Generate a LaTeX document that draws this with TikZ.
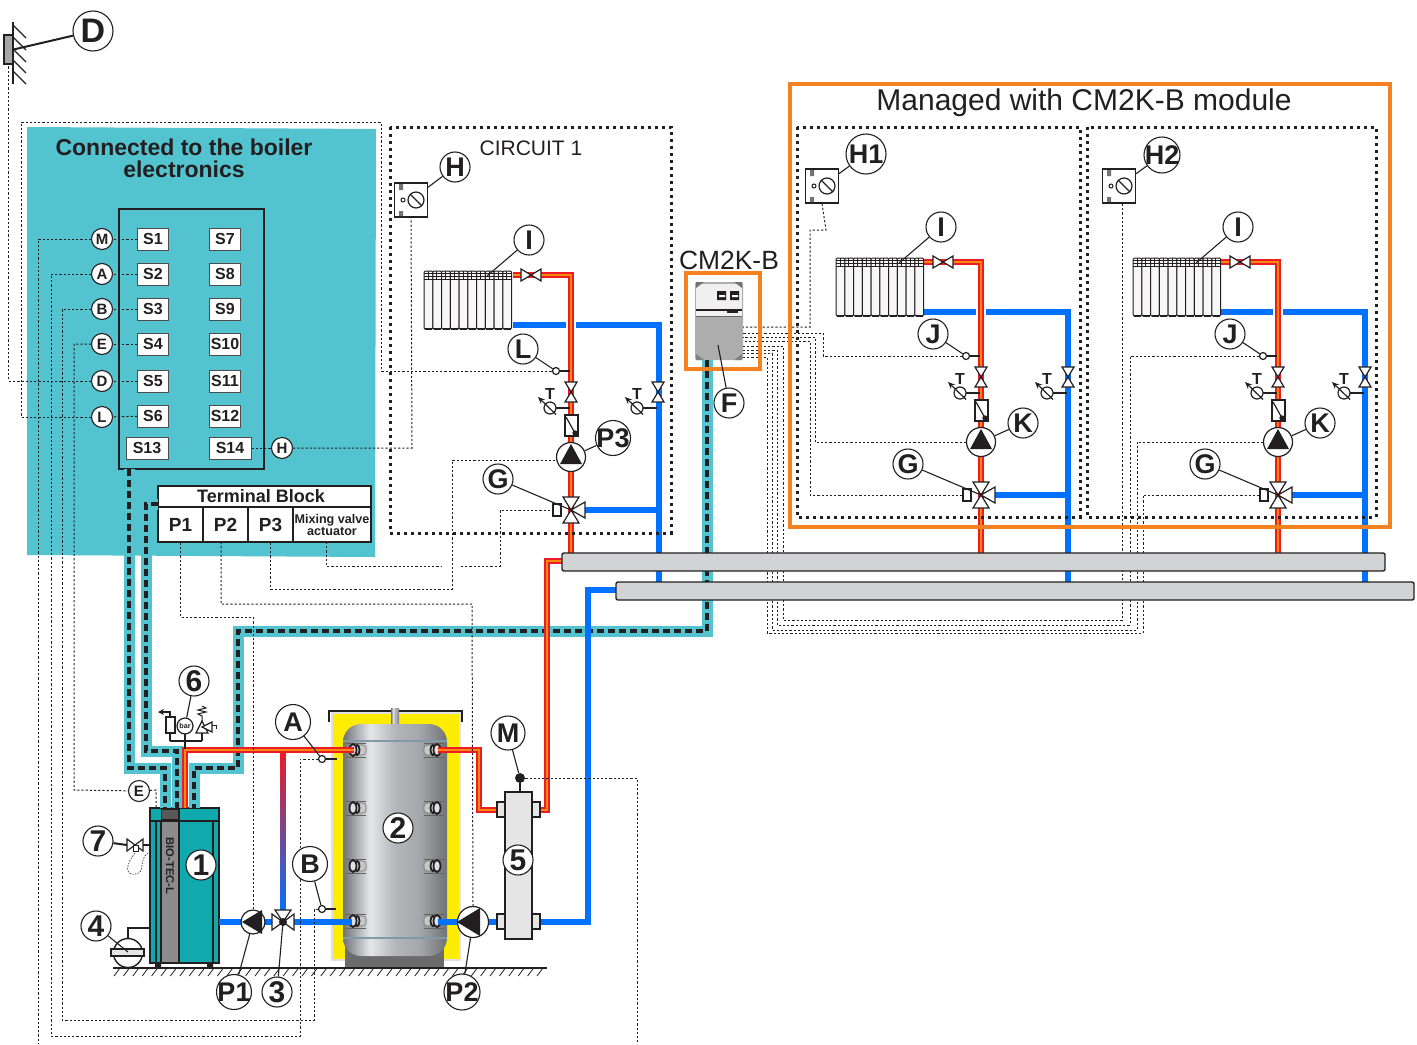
\documentclass[tikz,border=0pt]{standalone}
\usepackage{fontspec}
\setmainfont{Liberation Sans}
\usetikzlibrary{arrows.meta, calc}

\definecolor{ink}{HTML}{231F20}
\definecolor{tealbox}{HTML}{53C3CF}
\definecolor{boilerteal}{HTML}{10A9AE}
\definecolor{hotred}{HTML}{ED1C24}
\definecolor{hotorange}{HTML}{F58A0C}
\definecolor{coldblue}{HTML}{0072FF}
\definecolor{frameorange}{HTML}{F58220}
\definecolor{bargray}{HTML}{D1D3D4}
\definecolor{tankdark}{HTML}{707276}
\definecolor{tanklight}{HTML}{E4E6E8}
\definecolor{tankmid}{HTML}{B4B6BA}
\definecolor{tankright}{HTML}{A4A6AA}
\pgfdeclarehorizontalshading{tankmetal}{100bp}{color(0bp)=(tankdark); color(25bp)=(tankdark); color(38bp)=(tanklight); color(50bp)=(tankmid); color(62bp)=(tankright); color(75bp)=(tankdark); color(100bp)=(tankdark)}

\tikzset{
  bigtag/.style={circle, draw=ink, fill=white, line width=.55pt, inner sep=-8pt, minimum size=15pt, text=ink, font=\bfseries\fontsize{13.5}{14}\selectfont},
  pintag/.style={circle, draw=ink, fill=white, line width=.55pt, inner sep=-3pt, minimum size=10.5pt, text=ink, font=\bfseries\fontsize{7.5}{8}\selectfont},
  slotbox/.style={rectangle, draw=ink!80, fill=white, line width=.5pt, inner sep=0pt, minimum width=15.5pt, minimum height=11pt, text=ink, font=\bfseries\fontsize{8}{8}\selectfont},
  tbcell/.style={rectangle, draw=ink, fill=white, line width=.7pt, inner sep=0pt, minimum height=17.5pt, text=ink, font=\bfseries\fontsize{9.5}{10}\selectfont},
  wire/.style={ink, line width=.5pt, dash pattern=on 1.1pt off 1pt},
  leader/.style={ink, line width=.55pt},
  cable/.style={ink, line width=2pt, dash pattern=on 3.5pt off 2pt, preaction={draw=tealbox, line width=5.5pt, solid}},
  hotpipe/.style={hotorange, line width=1.1pt, preaction={draw=hotred, line width=3.2pt}},
  coldpipe/.style={coldblue, line width=2.75pt},
  dotframe/.style={ink, line width=1.5pt, dash pattern=on 1.5pt off 2pt},
  valvebody/.style={draw=ink, fill=white, line width=.6pt},
  pumpnode/.style={circle, draw=ink, fill=white, line width=.6pt, inner sep=0pt, minimum size=14.5pt},
  sensnode/.style={circle, draw=ink, fill=white, line width=.6pt, inner sep=0pt, minimum size=3.5pt},
  radfin/.style={draw=ink, fill=black!3, line width=.5pt},
  barbus/.style={draw=ink, fill=bargray, line width=.7pt, rounded corners=1pt},
  ttext/.style={inner sep=0pt, text=ink, font=\bfseries\fontsize{8}{8}\selectfont},
  thintext/.style={inner sep=0pt, text=ink},
}

% valve bodies, x and y of the centre
\newcommand{\hvalve}[2]{\draw[valvebody] (#1-10,#2-6) -- (#1+10,#2+6) -- (#1+10,#2-6) -- (#1-10,#2+6) -- cycle;}
\newcommand{\vvalve}[2]{\draw[valvebody] (#1-6,#2-10) -- (#1+6,#2+10) -- (#1-6,#2+10) -- (#1+6,#2-10) -- cycle;}

% thermometer, name, x of the pipe and y
\newcommand{\thermo}[3]{
  \draw[ink, line width=1pt] (#2-15,#3) -- (#2-1,#3);
  \draw[ink, fill=white, line width=.6pt] (#2-21,#3) circle[radius=6];
  \draw[ink, line width=.6pt, -{Stealth[length=3.5pt,width=3pt]}] (#2-15,#3+6.5) -- (#2-33,#3-11);
  \node[ttext] (#1) at (#2-21,#3-14) {T};
}

% radiator with its valve and tag, drawn for the second circuit
\newcommand{\radblock}[1]{
  \foreach \fin in {0,...,9} {
    \draw[radfin, rounded corners=.6pt] (836+8.75*\fin,258) rectangle ++(8.75,58);
    \draw[ink, line width=.9pt] (837+8.75*\fin,316) -- (844+8.75*\fin,316);
    \draw[ink, line width=.3pt] (840+8.75*\fin,258) -- (840+8.75*\fin,266);
  }
  \draw[ink, line width=.3pt] (836,260) -- (923.5,260) (836,263) -- (923.5,263) (836,266) -- (923.5,266);
  \hvalve{943}{262}
  \node[bigtag] (#1rad) at (941,227) {I};
  \coordinate (#1fin) at (899,263);
  \draw[leader] (#1rad) -- (#1fin);
}

% sensor, valves, pump and mixing valve, drawn for the second circuit
\newcommand{\pumpblock}[4]{
  \node[sensnode] (#1sens) at (966,356) {};
  \draw[ink, line width=1pt] (#1sens) -- (980,356);
  \vvalve{981}{377}
  \vvalve{1068}{377}
  \thermo{#1thot}{981}{393}
  \thermo{#1tcold}{1068}{393}
  \draw[valvebody] (975,400) rectangle (988,421);
  \draw[ink, line width=.6pt] (976,402) -- (985,418);
  \fill[ink] (985,418) circle[radius=2.7];
  \node[pumpnode] (#1pump) at (981,442) {};
  \fill[ink] (981,429) -- (970,449) -- (992,449) -- cycle;
  \draw[valvebody] (973,482) -- (989,482) -- (973,508) -- (989,508) -- cycle;
  \draw[valvebody] (981,495) -- (995,487) -- (995,503) -- cycle;
  \fill[ink] (981,495) circle[radius=1.5];
  \node[rectangle, draw=ink, fill=white, line width=.6pt, inner sep=0pt, minimum width=4pt, minimum height=6pt] (#1act) at (967,495) {};
  \node[bigtag] (#1tags) at (933,334) {#2};
  \node[bigtag, #4] (#1tagp) at (1023,423) {#3};
  \node[bigtag] (#1tagg) at (908,464) {G};
  \coordinate (#1mix) at (981,495);
  \draw[leader] (#1tags) -- (#1sens);
  \draw[leader] (#1tagp) -- (#1pump);
  \draw[leader] (#1tagg) -- (#1mix);
}

% room panel, drawn for the second circuit
\newcommand{\roombox}[1]{
  \node[rectangle, draw=ink, fill=white, line width=.6pt, inner sep=0pt, minimum width=16.5pt, minimum height=17pt] (#1room) at (822,186) {};
  \fill[black!55] (810,170) rectangle (814,176) (810,197) rectangle (814,202);
  \draw[ink, line width=.5pt] (814,186) circle[radius=2];
  \draw[ink, fill=white, line width=.6pt] (827,186) circle[radius=8];
  \draw[ink, line width=.6pt] (821,180) -- (833,192);
}

% connection on the tank
\newcommand{\tankport}[3]{
  \draw[ink!70, line width=.35pt] (#1-#3*7,#2-7) -- (#1+#3*13,#2-7) (#1-#3*7,#2+7) -- (#1+#3*13,#2+7);
  \draw[black!55, fill=black!22, line width=.3pt, rounded corners=1.5pt] (#1,#2-5) rectangle (#1+#3*13,#2+5);
  \draw[ink, fill=black!12, line width=.9pt] (#1+#3*4,#2) ellipse[x radius=2.5, y radius=5];
  \draw[ink, fill=black!12, line width=.9pt] (#1,#2) ellipse[x radius=3.5, y radius=6];
}

\begin{document}
\begin{tikzpicture}[x=0.5pt,y=-0.5pt]
  \useasboundingbox (0,0) rectangle (1417,1044);

  % Boiler electronics
  \fill[tealbox] (27,127) -- (376,129) -- (375,557) -- (27,555) -- cycle;
  \node[thintext, align=center, font=\bfseries\fontsize{11.5}{11}\selectfont] (boilertitle) at (184,158) {Connected to the boiler\\electronics};
  \node[rectangle, draw=ink, line width=.55pt, inner sep=0pt, minimum width=72.5pt, minimum height=130pt] (slotframe) at (191.5,339) {};

  \node[slotbox] (s1) at (153,239) {S1};
  \node[slotbox] (s2) at (153,274) {S2};
  \node[slotbox] (s3) at (153,309) {S3};
  \node[slotbox] (s4) at (153,344) {S4};
  \node[slotbox] (s5) at (153,381) {S5};
  \node[slotbox] (s6) at (153,416) {S6};
  \node[slotbox] (s7) at (225,239) {S7};
  \node[slotbox] (s8) at (225,274) {S8};
  \node[slotbox] (s9) at (225,309) {S9};
  \node[slotbox] (s10) at (225,344) {S10};
  \node[slotbox] (s11) at (225,381) {S11};
  \node[slotbox] (s12) at (225,416) {S12};
  \node[slotbox, minimum width=21pt] (s13) at (147,448) {S13};
  \node[slotbox, minimum width=21pt] (s14) at (230,448) {S14};

  \node[pintag] (pinM) at (102,239) {M};
  \node[pintag] (pinA) at (102,274) {A};
  \node[pintag] (pinB) at (102,309) {B};
  \node[pintag] (pinE) at (102,344) {E};
  \node[pintag] (pinD) at (102,381) {D};
  \node[pintag] (pinL) at (102,417) {L};
  \node[pintag] (pinH) at (282,448) {H};

  % Terminal block
  \node[tbcell, minimum width=106.5pt, minimum height=10.5pt, font=\bfseries\fontsize{9}{10}\selectfont] (tbhead) at (264.5,496.5) {Terminal Block\hspace*{3.5pt}};
  \node[tbcell, minimum width=22.5pt] (tbP1) at (180.5,524.5) {P1};
  \node[tbcell, minimum width=22.5pt] (tbP2) at (225.5,524.5) {P2};
  \node[tbcell, minimum width=22.5pt] (tbP3) at (270.5,524.5) {P3};
  \node[tbcell, minimum width=39pt, align=center, font=\bfseries\fontsize{6.3}{6}\selectfont] (tbmix) at (332,524.5) {Mixing valve\\actuator};
  \coordinate (tbP2pin) at (221,542);
  \coordinate (tbmixpin) at (326,542);

  % CM2K-B module
  \node[thintext, font=\fontsize{13.2}{14}\selectfont] (cmtitle) at (729,260) {CM2K-B};
  \node[rectangle, rounded corners=1pt, fill=black!32, inner sep=0pt, minimum width=24pt, minimum height=39pt] (cm2k) at (719,321) {};
  \fill[black!6] (696,284) rectangle (742,316);
  \fill[ink] (717,291) rectangle (726,300) (730,291) rectangle (739,300);
  \fill[white] (719,295) rectangle (725,297) (732,295) rectangle (738,297);
  \draw[ink, line width=.7pt] (696,310) -- (742,310);
  \draw[black!60, line width=.3pt] (696,316) -- (742,316);
  \fill[ink] (727,311) rectangle (738,313);
  \fill[black!55] (696,282) -- (704,282) -- (696,288) -- cycle (742,282) -- (734,282) -- (742,288) -- cycle;
  \fill[black!50] (696,360) -- (704,360) -- (696,354) -- cycle (742,360) -- (734,360) -- (742,354) -- cycle;

  % Connections of the module
  \coordinate (cmH1) at (743,327);
  \coordinate (cmJ1) at (743,333);
  \coordinate (cmK1) at (743,337);
  \coordinate (cmG1) at (743,341);
  \coordinate (cmH2) at (743,346);
  \coordinate (cmJ2) at (743,350);
  \coordinate (cmK2) at (743,353);
  \coordinate (cmG2) at (743,357);
  \coordinate (cmcable) at (707,360);
  \coordinate (slotcable) at (129,469);
  \coordinate (tbcable) at (158,504);

  % Boiler
  \node[rectangle, draw=ink, fill=boilerteal, line width=.8pt, inner sep=0pt, minimum width=34.5pt, minimum height=77.5pt] (boiler) at (184.5,885.5) {};
  \fill[black!45] (161,821) rectangle (179,962);
  \draw[ink, line width=.8pt] (150,821) -- (219,821) (156,821) -- (156,962) (161,821) -- (161,962) (179,808) -- (179,962) (213,821) -- (213,962);
  \draw[ink, fill=black!65, line width=.4pt] (161,809) rectangle (178,819);
  \fill[ink] (155,963) rectangle (161,968) (207,963) rectangle (213,968);
  \node[rotate=-90, inner sep=0pt, text=ink, font=\bfseries\fontsize{5.6}{6}\selectfont] (boilermark) at (170,866) {BIO-TEC-L};

  % Cables
  \draw[cable] (slotcable) -- (129,768) -- (165,768) -- (165,808);
  \draw[cable] (tbcable) -- (146,504) -- (146,751) -- (177,751) -- (177,808);
  \draw[cable] (cmcable) -- (707,631) -- (238,631) -- (238,768) -- (194,768) -- (194,808);

  % Tank
  \draw[black!12, fill=yellow!95!orange, line width=.6pt] (332,713) rectangle (460,960);
  \fill[black!58] (345,945) rectangle (444,968);
  \draw[ink, line width=1pt] (329,722) -- (329,711) -- (462,711) -- (462,722);
  \shade[shading=tankmetal] (391,708) rectangle (399,726);
  \shade[shading=tankmetal, rounded corners=9pt] (343,724) rectangle (447,956);
  \draw[black!10!cyan!30!gray, line width=.6pt] (343,741) -- (447,741) (343,938) -- (447,938);

  \tankport{353}{750}{1}
  \tankport{353}{808}{1}
  \tankport{353}{866}{1}
  \tankport{353}{921}{1}
  \tankport{437}{750}{-1}
  \tankport{437}{808}{-1}
  \tankport{437}{866}{-1}
  \tankport{437}{921}{-1}

  % Pipes of the plant
  \draw[hotpipe] (185,808) -- (185,750) -- (354,750);
  \shade[top color=hotred, middle color=violet!70!blue, bottom color=coldblue] (280.5,752) rectangle (285.5,915);
  \draw[coldpipe] (219,922) -- (352,922);
  \draw[hotpipe] (438,750) -- (479,750) -- (479,810) -- (500,810);
  \draw[coldpipe] (438,922) -- (500,922);
  \draw[hotpipe] (562,561) -- (547,561) -- (547,810) -- (538,810);
  \draw[coldpipe] (616,590) -- (588,590) -- (588,922) -- (538,922);

  % Pipes of the circuits
  \draw[hotpipe] (513,275) -- (571,275) -- (571,553);
  \draw[coldpipe] (513,325) -- (566,325);
  \draw[coldpipe] (576,325) -- (659,325) -- (659,583);
  \draw[coldpipe] (585,510) -- (659,510);
  \foreach \dx in {0,297} {
    \draw[hotpipe] (924+\dx,262) -- (981+\dx,262) -- (981+\dx,553);
    \draw[coldpipe] (924+\dx,312) -- (976+\dx,312);
    \draw[coldpipe] (986+\dx,312) -- (1068+\dx,312) -- (1068+\dx,583);
    \draw[coldpipe] (995+\dx,495) -- (1068+\dx,495);
  }

  % Circuit parts
  \begin{scope}[shift={(-412,13)}]
    \radblock{a}
  \end{scope}
  \begin{scope}[shift={(-410,15)}]
    \pumpblock{a}{L}{P3}{minimum size=17.5pt}
  \end{scope}
  \begin{scope}[shift={(-411,14)}]
    \roombox{a}
  \end{scope}
  \radblock{b}
  \pumpblock{b}{J}{K}{}
  \roombox{b}
  \begin{scope}[shift={(297,0)}]
    \radblock{c}
    \pumpblock{c}{J}{K}{}
    \roombox{c}
  \end{scope}

  % Plant sensors and fittings
  \node[sensnode] (sensA) at (322,759) {};
  \draw[ink, line width=1pt] (sensA) -- (337,759);
  \node[sensnode] (sensB) at (322,909) {};
  \draw[ink, line width=1pt] (sensB) -- (336,909);
  \node[rectangle, draw=ink, fill=black!35, line width=.6pt, inner sep=0pt, minimum width=4.5pt, minimum height=14.5pt] (sensD) at (8.5,49.5) {};
  \draw[ink, line width=.8pt] (13,22) -- (13,84);
  \foreach \wy in {25,37,49,60,71}
    \draw[ink, line width=.6pt] (13,\wy) -- (26,\wy+13);

  % Separator
  \node[rectangle, draw=ink, fill=black!10, line width=.8pt, inner sep=0pt, minimum width=13.5pt, minimum height=73.5pt] (separator) at (518.5,865.5) {};
  \draw[ink, fill=black!10, line width=.6pt] (497,802) rectangle (505,817) (532,802) rectangle (540,817) (497,914) rectangle (505,929) (532,914) rectangle (540,929);
  \node[circle, fill=ink, inner sep=0pt, minimum size=5pt] (sensM) at (520,778) {};
  \draw[ink, line width=.8pt] (sensM) -- (520,792);

  % Pumps
  \node[pumpnode, minimum size=12pt] (pumpP1) at (253,922) {};
  \fill[ink] (242,922) -- (262,910) -- (262,934) -- cycle;
  \node[pumpnode, minimum size=15.5pt] (pumpP2) at (473,922) {};
  \fill[ink] (457,922) -- (480,908) -- (480,936) -- cycle;

  % Mixing valve of the plant
  \coordinate (mix3) at (283,922);
  \draw[valvebody] (272,914) -- (294,930) -- (294,914) -- (272,930) -- cycle;
  \draw[valvebody] (283,922) -- (275,910) -- (291,910) -- cycle;
  \fill[ink] (mix3) circle[radius=4];

  % Safety group
  \draw[ink, line width=.6pt] (185,749) -- (185,733) (170,741) -- (202,741) (170,741) -- (170,733) (202,741) -- (202,733);
  \draw[ink, fill=white, line width=.6pt] (166,717) rectangle (175,733);
  \draw[ink, line width=.6pt, -{Stealth[length=3pt,width=3pt]}] (170,717) -- (170,712) -- (158,712);
  \draw[valvebody] (202,721) -- (196,733) -- (208,733) -- cycle;
  \draw[valvebody] (202,727) -- (212,722) -- (212,732) -- cycle;
  \draw[ink, line width=.5pt] (202,721) -- (202,716) -- (198,714) -- (206,712) -- (198,710) -- (206,708) -- (202,706);
  \draw[ink, line width=.5pt] (212,725) -- (216,725) -- (216,729);
  \node[circle, draw=ink, fill=white, line width=.6pt, inner sep=0pt, minimum size=8pt, text=ink, font=\bfseries\fontsize{3.6}{4}\selectfont] (gauge) at (185,726) {bar};

  % Valve on the boiler and its vessel
  \draw[ink, line width=1pt] (143,845) -- (150,845);
  \draw[valvebody] (127,839) -- (143,851) -- (143,839) -- (127,851) -- cycle;
  \draw[ink, fill=white, line width=.5pt] (133,845) rectangle (138,851);
  \draw[ink, line width=.3pt, dash pattern=on .8pt off .6pt] (148,853) .. controls (138,860) and (146,872) .. (136,874) .. controls (124,876) and (126,864) .. (135,853);
  \coordinate (valve7) at (127,845);
  \draw[ink, line width=.7pt] (128,938) -- (128,928) -- (150,928);
  \draw[ink, fill=white, line width=.7pt] (128,953) circle[radius=14.5];
  \draw[ink, fill=black!10, line width=.6pt] (111,949) rectangle (144,956);
  \coordinate (vessel) at (128,952);

  % Ground
  \draw[ink, line width=.8pt] (113,968) -- (547,968);
  \foreach \hx in {120,129.4,...,547}
    \draw[ink, line width=.4pt] (\hx,968) -- (\hx-6,976);

  % Small tag on the boiler
  \node[pintag] (pinEb) at (139,791) {E};

  % Wires of the boiler electronics
  \draw[wire] (s1) -- (pinM);
  \draw[wire] (s2) -- (pinA);
  \draw[wire] (s3) -- (pinB);
  \draw[wire] (s4) -- (pinE);
  \draw[wire] (s5) -- (pinD);
  \draw[wire] (s6) -- (pinL);
  \draw[wire] (s14) -- (pinH);
  \coordinate (endM) at (38,1044);
  \coordinate (endS) at (637,1044);
  \draw[wire] (pinM.west) -| (endM);
  \draw[wire] (pinA.west) -- (51,274) -- (51,1036) -- (300,1036) -- (300,759) -- (sensA);
  \draw[wire] (pinB.west) -- (62,309) -- (62,1020) -- (314,1020) -- (314,909) -- (sensB);
  \draw[wire] (pinE.west) -- (74,344) -- (74,790) -- (pinEb);
  \draw[wire] (pinEb) -- (156,790) -- (156,808);
  \draw[wire] (pinD.west) -- (8.5,381) -- (sensD.south);
  \draw[wire] (pinL.west) -- (21,417) -- (21,122) -- (381,122) -- (381,371) -- (asens);
  \draw[wire] (pinH.east) -- (412,448) -- (aroom.south);
  \draw[wire] (sensM) -- (637,778) -- (endS);

  % Wires of the terminal block
  \draw[wire] (tbP1.south) |- (253,617) -- (pumpP1);
  \draw[wire] (tbP2pin) |- (472,604) -- (pumpP2.north);
  \draw[wire] (tbP3.south) |- (452,589) |- (apump.192);
  \draw[wire] (tbmixpin) |- (442,566);
  \draw[wire] (461,566) -- (500,566) -- (500,510) -- (aact);

  % Wires of the two circuits
  \draw[wire] (broom.south) -- (826,230) -- (810,230) -- (810,327) -- (cmH1);
  \draw[wire] (bsens) -- (823,356) -- (823,333) -- (cmJ1);
  \draw[wire] (bpump) -- (815,442) -- (815,337) -- (cmK1);
  \draw[wire] (bact) -- (810,495) -- (810,341) -- (cmG1);
  \draw[wire] (cmH2) -- (783,346) -- (783,620) -- (1122,620) -- (1122,203);
  \draw[wire] (cmJ2) -- (777,350) -- (777,625) -- (1130,625) -- (1130,356) -- (csens);
  \draw[wire] (cmK2) -- (772,353) -- (772,630) -- (1137,630) -- (1137,442) -- (cpump);
  \draw[wire] (cmG2) -- (767,357) -- (767,633) -- (1143,633) -- (1143,495) -- (cact);

  % Bars
  \draw[barbus] (562,553) rectangle (1385,571);
  \draw[barbus] (616,582) rectangle (1414,600);

  % Frames
  \draw[dotframe] (390,127) rectangle (671,533);
  \draw[dotframe] (797,127) rectangle (1080,517);
  \draw[dotframe] (1087,127) rectangle (1376,517);
  \draw[frameorange, line width=1.9pt] (686,273) rectangle (760,369);
  \draw[frameorange, line width=1.9pt] (790,84) rectangle (1390,527);
  \node[thintext, font=\fontsize{15}{16}\selectfont] (cmmanaged) at (1084,103) {Managed with CM2K-B module};
  \node[thintext, font=\fontsize{10.5}{11}\selectfont] (circuitone) at (531,148) {CIRCUIT 1};

  % Tags
  \node[bigtag, minimum size=20pt, font=\bfseries\fontsize{17}{18}\selectfont] (tagD) at (93,31) {D};
  \node[bigtag] (tagH) at (455,167) {H};
  \node[bigtag, minimum size=20pt] (tagHa) at (866,154) {H1};
  \node[bigtag, minimum size=18pt] (tagHb) at (1162,155) {H2};
  \node[bigtag] (tagF) at (729,403) {F};
  \node[bigtag, font=\bfseries\fontsize{15}{15}\selectfont] (tag1) at (201,865) {1};
  \node[bigtag, font=\bfseries\fontsize{15}{15}\selectfont] (tag2) at (398,828) {2};
  \node[bigtag, font=\bfseries\fontsize{15}{15}\selectfont] (tag3) at (277,992) {3};
  \node[bigtag, font=\bfseries\fontsize{15}{15}\selectfont] (tag4) at (96,926) {4};
  \node[bigtag, font=\bfseries\fontsize{15}{15}\selectfont] (tag5) at (518,860) {5};
  \node[bigtag, font=\bfseries\fontsize{15}{15}\selectfont] (tag6) at (194,681) {6};
  \node[bigtag, font=\bfseries\fontsize{15}{15}\selectfont] (tag7) at (98,841) {7};
  \node[bigtag, minimum size=17.5pt] (tagA) at (293,722) {A};
  \node[bigtag, minimum size=17.5pt] (tagB) at (310,864) {B};
  \node[bigtag, minimum size=17pt] (tagM) at (508,733) {M};
  \node[bigtag, minimum size=17.5pt] (tagPa) at (234,992) {P1};
  \node[bigtag, minimum size=18pt] (tagPb) at (462,992) {P2};
  \coordinate (cmface) at (718,345);

  \draw[leader, line width=1pt] (tagD) -- (sensD.east);
  \draw[leader] (tagH) -- (aroom);
  \draw[leader] (tagHa) -- (broom);
  \draw[leader] (tagHb) -- (croom);
  \draw[leader] (tagF) -- (cmface);
  \draw[leader] (tag3) -- (mix3);
  \draw[leader] (tag4) -- (vessel);
  \draw[leader] (tag6) -- (gauge);
  \draw[leader, line width=1pt] (tag7) -- (valve7);
  \draw[leader] (tagA) -- (sensA);
  \draw[leader] (tagB) -- (sensB);
  \draw[leader] (tagM) -- (sensM);
  \draw[leader] (tagPa) -- (pumpP1);
  \draw[leader] (tagPb) -- (pumpP2);
\end{tikzpicture}
\end{document}
